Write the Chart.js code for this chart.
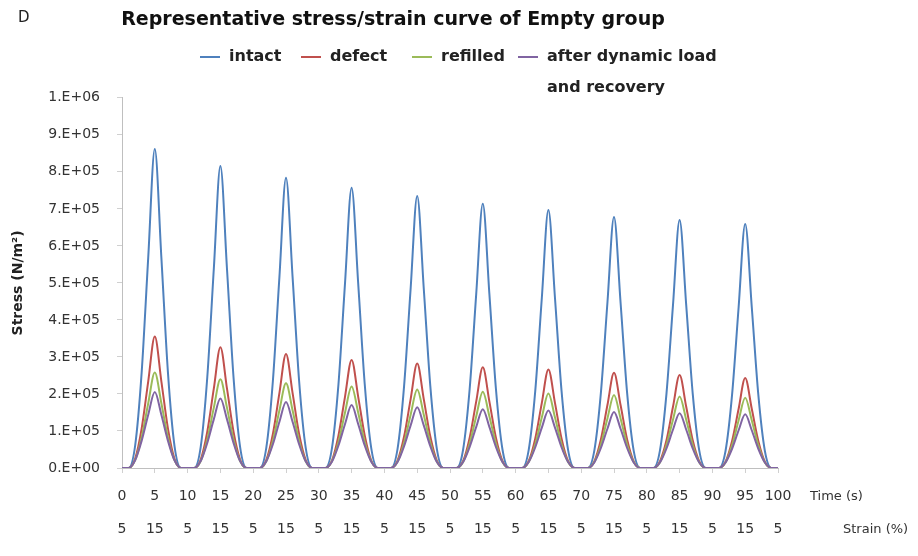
<!DOCTYPE html>
<html>
<head>
<meta charset="utf-8">
<script src="https://cdn.jsdelivr.net/npm/chart.js@4.4.0/dist/chart.umd.min.js"></script>
<style>
    html, body { margin: 0; padding: 0; background: #fff; }
    #wrap { width: 918px; height: 556px; position: relative; }
</style>
</head>
<body>
<div id="wrap"><canvas id="stressChart"></canvas></div>
<script>
// 时间轴 (s)，每秒一个点
const timeSec = [
    0, 1, 2, 3, 4, 5, 6, 7, 8, 9,
    10, 11, 12, 13, 14, 15, 16, 17, 18, 19,
    20, 21, 22, 23, 24, 25, 26, 27, 28, 29,
    30, 31, 32, 33, 34, 35, 36, 37, 38, 39,
    40, 41, 42, 43, 44, 45, 46, 47, 48, 49,
    50, 51, 52, 53, 54, 55, 56, 57, 58, 59,
    60, 61, 62, 63, 64, 65, 66, 67, 68, 69,
    70, 71, 72, 73, 74, 75, 76, 77, 78, 79,
    80, 81, 82, 83, 84, 85, 86, 87, 88, 89,
    90, 91, 92, 93, 94, 95, 96, 97, 98, 99,
    100
];

// 应力，单位 x1000 N/m2
const intact = [
    0, 0, 60, 259, 569, 862, 569, 259, 60, 0,
    0, 0, 57, 245, 539, 816, 539, 245, 57, 0,
    0, 0, 55, 235, 517, 784, 517, 235, 55, 0,
    0, 0, 53, 227, 500, 757, 500, 227, 53, 0,
    0, 0, 51, 221, 485, 735, 485, 221, 51, 0,
    0, 0, 50, 214, 471, 714, 471, 214, 50, 0,
    0, 0, 49, 209, 460, 697, 460, 209, 49, 0,
    0, 0, 47, 203, 447, 678, 447, 203, 47, 0,
    0, 0, 47, 201, 442, 670, 442, 201, 47, 0,
    0, 0, 46, 198, 435, 659, 435, 198, 46, 0,
    0
];
const defect = [
    0, 0, 25, 107, 234, 355, 234, 107, 25, 0,
    0, 0, 23, 98, 215, 326, 215, 98, 23, 0,
    0, 0, 22, 92, 203, 308, 203, 92, 22, 0,
    0, 0, 20, 88, 193, 292, 193, 88, 20, 0,
    0, 0, 20, 85, 186, 282, 186, 85, 20, 0,
    0, 0, 19, 82, 180, 272, 180, 82, 19, 0,
    0, 0, 19, 80, 176, 266, 176, 80, 19, 0,
    0, 0, 18, 77, 170, 257, 170, 77, 18, 0,
    0, 0, 18, 75, 166, 251, 166, 75, 18, 0,
    0, 0, 17, 73, 160, 243, 160, 73, 17, 0,
    0
];
const refilled = [
    0, 0, 21, 83, 175, 258, 175, 83, 21, 0,
    0, 0, 19, 77, 163, 240, 163, 77, 19, 0,
    0, 0, 18, 73, 156, 229, 156, 73, 18, 0,
    0, 0, 18, 70, 150, 220, 150, 70, 18, 0,
    0, 0, 17, 68, 144, 212, 144, 68, 17, 0,
    0, 0, 16, 66, 140, 206, 140, 66, 16, 0,
    0, 0, 16, 64, 137, 201, 137, 64, 16, 0,
    0, 0, 16, 63, 134, 197, 134, 63, 16, 0,
    0, 0, 15, 62, 131, 193, 131, 62, 15, 0,
    0, 0, 15, 61, 129, 190, 129, 61, 15, 0,
    0
];
const afterRecovery = [
    0, 0, 21, 74, 144, 205, 144, 74, 21, 0,
    0, 0, 19, 68, 132, 188, 132, 68, 19, 0,
    0, 0, 18, 64, 125, 178, 125, 64, 18, 0,
    0, 0, 17, 61, 119, 170, 119, 61, 17, 0,
    0, 0, 16, 59, 115, 164, 115, 59, 16, 0,
    0, 0, 16, 57, 111, 159, 111, 57, 16, 0,
    0, 0, 16, 56, 109, 155, 109, 56, 16, 0,
    0, 0, 15, 54, 106, 151, 106, 54, 15, 0,
    0, 0, 15, 53, 104, 148, 104, 53, 15, 0,
    0, 0, 15, 52, 102, 145, 102, 52, 15, 0,
    0
];

// 刻度标签
const timeTicks = ['0', '5', '10', '15', '20', '25', '30', '35', '40', '45', '50',
    '55', '60', '65', '70', '75', '80', '85', '90', '95', '100'];
const strainTicks = ['5', '15', '5', '15', '5', '15', '5', '15', '5', '15', '5',
    '15', '5', '15', '5', '15', '5', '15', '5', '15', '5'];
const stressTicks = ['0.E+00', '1.E+05', '2.E+05', '3.E+05', '4.E+05', '5.E+05',
    '6.E+05', '7.E+05', '8.E+05', '9.E+05', '1.E+06'];

const seriesNames = ['intact', 'defect', 'refilled', 'after dynamic load\nand recovery'];
const seriesColors = ['#4F81BD', '#C0504D', '#9BBB59', '#8064A2'];
const legendX = [200, 301, 412, 518];

const FONT = '"DejaVu Sans", sans-serif';

// 图例、面板字母和轴名称
const extraText = {
    id: 'extraText',
    afterDraw(chart) {
        const ctx = chart.ctx;
        ctx.save();
        ctx.textBaseline = 'middle';
        ctx.fillStyle = '#222';
        ctx.font = '15px ' + FONT;
        ctx.fillText('D', 18, 18);

        ctx.fillStyle = '#333';
        ctx.font = '13px ' + FONT;
        ctx.fillText('Time (s)', 810, 497);
        ctx.fillText('Strain (%)', 843, 530);

        // 图例
        ctx.font = 'bold 16px ' + FONT;
        const y = 57;
        seriesNames.forEach((name, i) => {
            const x = legendX[i];
            ctx.strokeStyle = seriesColors[i];
            ctx.lineWidth = 2;
            ctx.beginPath();
            ctx.moveTo(x, y);
            ctx.lineTo(x + 20, y);
            ctx.stroke();
            ctx.fillStyle = '#222';
            name.split('\n').forEach((ln, j) => {
                ctx.fillText(ln, x + 29, y + j * 31);
            });
        });
        ctx.restore();
    }
};

const ctx = document.getElementById('stressChart').getContext('2d');
new Chart(ctx, {
    type: 'line',
    data: {
        labels: timeSec,
        datasets: [intact, defect, refilled, afterRecovery].map((d, i) => ({
            label: seriesNames[i],
            data: d,
            borderColor: seriesColors[i],
            borderWidth: 2,
            pointRadius: 0,
            fill: false,
            cubicInterpolationMode: 'monotone',
            order: 4 - i
        }))
    },
    options: {
        responsive: true,
        maintainAspectRatio: false,
        animation: false,
        layout: { padding: { left: 8, right: 140, top: 0, bottom: 8 } },
        plugins: {
            legend: { display: false },
            tooltip: { enabled: false },
            title: {
                display: true,
                text: 'Representative stress/strain curve of Empty group',
                color: '#111',
                font: { family: FONT, size: 19, weight: 'bold' },
                padding: { top: 9, bottom: 66 }
            }
        },
        scales: {
            x: {
                type: 'linear',
                min: 0,
                max: 100,
                afterFit: s => { s.height = 80; },
                ticks: {
                    stepSize: 5,
                    autoSkip: false,
                    maxRotation: 0,
                    padding: 7,
                    color: '#333',
                    font: { family: FONT, size: 14, lineHeight: '33px' },
                    callback: v => [timeTicks[v / 5], strainTicks[v / 5]]
                },
                grid: { drawOnChartArea: false, tickLength: 5, color: '#d0d0d0' },
                border: { color: '#bfbfbf' }
            },
            y: {
                min: 0,
                max: 1000,
                afterFit: s => { s.width = 114; },
                ticks: {
                    stepSize: 100,
                    padding: 17,
                    color: '#333',
                    font: { family: FONT, size: 14 },
                    callback: v => stressTicks[Math.round(v / 100)]
                },
                grid: { drawOnChartArea: false, tickLength: 5, color: '#d0d0d0' },
                border: { color: '#bfbfbf' },
                title: {
                    display: true,
                    text: 'Stress (N/m²)',
                    color: '#222',
                    font: { family: FONT, size: 14, weight: 'bold' },
                    padding: { top: 2, bottom: 0 }
                }
            }
        }
    },
    plugins: [extraText]
});
</script>
</body>
</html>
